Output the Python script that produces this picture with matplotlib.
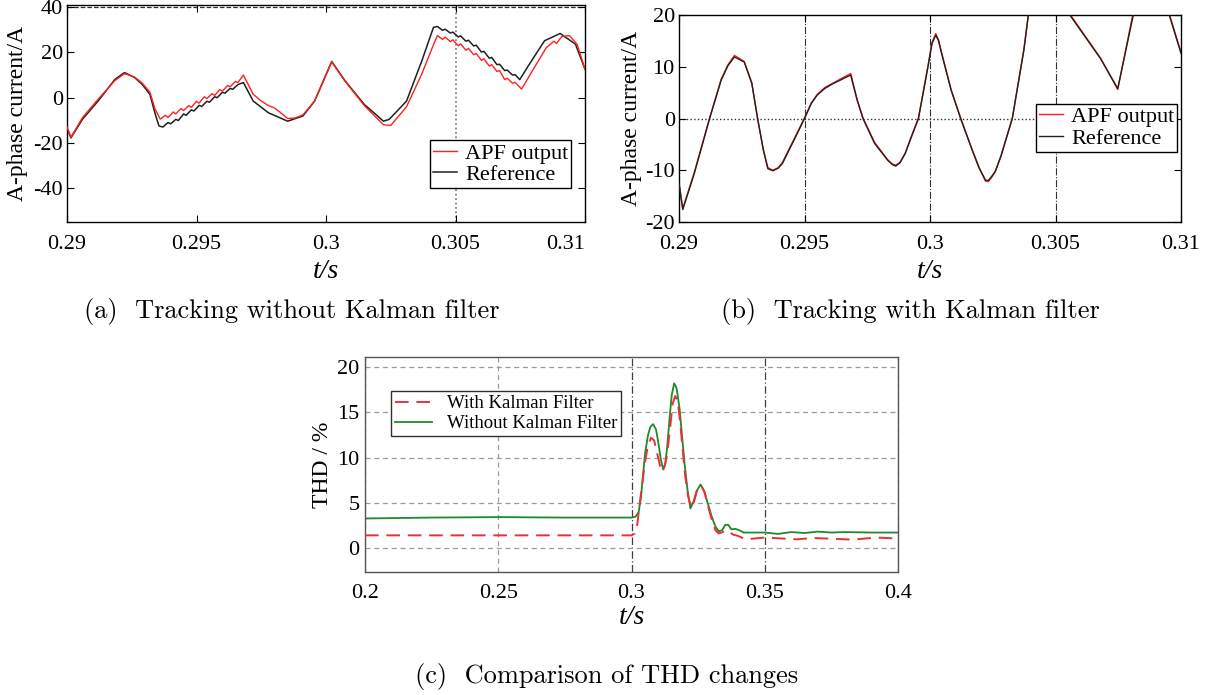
import matplotlib
matplotlib.use("Agg")
import matplotlib.pyplot as plt

plt.rcParams['font.family'] = ['Liberation Serif', 'DejaVu Serif']
plt.rcParams['axes.unicode_minus'] = False

# ---------------- Panel (a): tracking without Kalman filter ----------------
t_a_ref = [0.2900, 0.29015, 0.2906, 0.2912, 0.29185, 0.29222, 0.2926, 0.2929, 0.2932, 0.2934, 0.29355, 0.2937,
           0.2939, 0.2940, 0.2942, 0.2943, 0.2945, 0.2946, 0.2948, 0.2949, 0.2951, 0.2952, 0.2954, 0.2955,
           0.2957, 0.2958, 0.2960, 0.2961, 0.2963, 0.2964, 0.2966, 0.29681,
           0.29719, 0.29778, 0.29852, 0.29911, 0.29956, 0.30022, 0.30074, 0.30148, 0.30222, 0.30244, 0.30311,
           0.3037, 0.30415, 0.3043,
           0.3045, 0.3046, 0.3048, 0.3049, 0.3051, 0.3052, 0.3054, 0.3055, 0.3057, 0.3058, 0.3060, 0.3061,
           0.3063, 0.3064, 0.3066, 0.3067, 0.3069, 0.3070, 0.3072, 0.3073, 0.30748,
           0.30785, 0.30844, 0.30904, 0.30963, 0.3100]
i_a_ref = [-13.3, -17.8, -9.5, -1.5, 8.1, 11.1, 9.0, 5.9, 1.5, -7.0, -12.5, -13.0,
           -11.0, -11.6, -9.6, -10.1, -7.2, -7.8, -5.4, -5.9, -3.4, -3.9, -1.6, -2.0,
           0.4, 0.0, 2.4, 2.0, 4.1, 3.7, 5.8, 6.7,
           -1.5, -6.7, -10.4, -8.1, -1.5, 16.0, 7.4, -3.0, -10.4, -9.6, -1.5,
           16.3, 31.1, 31.5,
           29.8, 30.3, 28.6, 29.0, 26.9, 27.3, 25.0, 25.4, 22.9, 23.2, 20.2, 20.5,
           17.5, 17.8, 14.6, 14.8, 12.0, 12.2, 10.0, 10.2, 8.0,
           14.8, 25.2, 28.4, 23.7, 12.6]

t_a_apf = [0.2900, 0.29015, 0.2906, 0.2912, 0.29185, 0.29222, 0.2926, 0.2929, 0.2932, 0.2934, 0.2936,
           0.2938, 0.2939, 0.2941, 0.2942, 0.2944, 0.2945, 0.2947, 0.2948, 0.2950, 0.2951, 0.2953, 0.2954,
           0.2956, 0.2957, 0.2959, 0.2960, 0.2962, 0.2963, 0.2965, 0.2966, 0.29681,
           0.29719, 0.2975, 0.29778, 0.2980, 0.2982, 0.29852, 0.2988, 0.29911, 0.29956, 0.30022, 0.30074,
           0.30148, 0.30222, 0.3025, 0.30311, 0.3037, 0.3041, 0.3043,
           0.3045, 0.3046, 0.3048, 0.3049, 0.3051, 0.3052, 0.3054, 0.3055, 0.3057, 0.3058, 0.3060, 0.3061,
           0.3063, 0.3064, 0.3066, 0.3067, 0.3069, 0.3070, 0.3072, 0.3073, 0.30755,
           0.3080, 0.3085, 0.3088, 0.3089, 0.3091, 0.3094, 0.3097, 0.3100]
i_a_apf = [-13.0, -17.5, -8.8, -0.7, 7.6, 10.6, 9.2, 6.5, 2.5, -5.0, -9.5,
           -7.8, -8.8, -6.3, -7.2, -4.8, -5.7, -3.5, -4.3, -1.6, -2.4, 0.4, -0.4,
           1.8, 1.0, 3.6, 2.9, 5.4, 4.8, 7.2, 6.7, 10.0,
           1.5, -1.5, -3.5, -4.5, -6.2, -9.2, -9.0, -7.6, -1.5, 15.8, 7.2,
           -3.5, -12.0, -12.3, -4.0, 10.5, 22.0, 27.5,
           25.8, 26.8, 24.8, 25.6, 23.0, 23.8, 21.0, 21.8, 19.0, 19.6, 16.5, 17.2,
           14.0, 14.6, 11.6, 12.0, 8.0, 8.6, 6.4, 6.8, 3.8,
           12.5, 22.0, 25.0, 24.0, 27.0, 27.5, 23.5, 12.6]

# ---------------- Panel (b): tracking with Kalman filter ----------------
t_b = [0.2900, 0.29015, 0.29061, 0.29122, 0.29168, 0.29195, 0.29221, 0.2926, 0.2929, 0.29313, 0.29336,
       0.29354, 0.29374, 0.29395, 0.29412, 0.29458, 0.2950, 0.29527, 0.2955, 0.29581, 0.29612, 0.29642,
       0.29684, 0.2971, 0.29733, 0.29779, 0.29832, 0.2985, 0.29863, 0.2988, 0.29901, 0.29931, 0.29954,
       0.29992, 0.30008, 0.30023, 0.30034, 0.30046, 0.30084, 0.30122, 0.30168, 0.30195, 0.30221, 0.30232,
       0.30244, 0.3026, 0.30282, 0.30328, 0.30374, 0.30392, 0.3043, 0.3050, 0.30557, 0.30679, 0.30748,
       0.3081, 0.3090, 0.3100]
i_b_ref = [-12.6, -17.6, -10.6, 0.0, 7.4, 10.2, 11.9, 10.9, 6.8, 0.0, -6.1,
           -9.7, -10.1, -9.6, -8.7, -4.2, 0.0, 2.9, 4.5, 5.8, 6.7, 7.4,
           8.4, 3.5, 0.0, -4.8, -8.1, -8.9, -9.2, -8.6, -6.8, -2.9, 0.0,
           10.0, 14.5, 16.1, 15.0, 12.6, 5.5, 0.0, -6.1, -9.5, -11.9, -12.0,
           -11.3, -10.2, -7.4, 0.0, 13.2, 20.0, 31.5, 27.0, 20.0, 11.6, 5.8,
           20.0, 28.4, 12.6]
i_b_apf = [-12.4, -17.4, -10.4, 0.1, 7.6, 10.4, 12.2, 11.0, 6.9, 0.1, -6.0,
           -9.5, -10.0, -9.5, -8.5, -4.0, 0.1, 3.0, 4.6, 6.0, 6.8, 7.6,
           8.7, 3.6, 0.1, -4.6, -8.0, -8.8, -9.0, -8.5, -6.7, -2.8, 0.1,
           10.2, 14.7, 16.4, 15.2, 12.8, 5.6, 0.1, -6.0, -9.4, -12.1, -12.2,
           -11.5, -10.3, -7.3, 0.1, 13.4, 20.2, 31.6, 27.1, 20.2, 11.7, 5.6,
           20.6, 28.6, 12.8]

# ---------------- Panel (c): THD comparison ----------------
t_c_with = [0.200, 0.300, 0.3012, 0.3021, 0.3030, 0.3039, 0.3050, 0.3061, 0.3073, 0.3085, 0.3096, 0.3107,
            0.3116, 0.3125, 0.3134, 0.3145, 0.3154, 0.3164, 0.3173, 0.3182, 0.3191, 0.3202, 0.3212, 0.3224,
            0.3235, 0.3247, 0.3260, 0.3274, 0.3285, 0.3300, 0.3315, 0.3327, 0.3342, 0.3354, 0.3367, 0.3383,
            0.3398, 0.3413, 0.3428, 0.350, 0.356, 0.362, 0.368, 0.374, 0.383, 0.392, 0.400]
thd_with = [1.44, 1.44, 1.65, 2.5, 4.7, 6.8, 9.4, 11.2, 12.2, 11.9, 10.5, 9.1,
            8.5, 9.1, 10.5, 13.3, 15.9, 16.8, 16.3, 14.1, 11.2, 7.9, 5.8, 4.5,
            5.2, 6.5, 7.0, 6.2, 4.9, 3.3, 2.0, 1.65, 1.8, 2.0, 1.8, 1.5,
            1.4, 1.2, 1.0, 1.2, 1.1, 1.0, 1.15, 1.08, 0.97, 1.2, 1.08]
t_c_without = [0.200, 0.225, 0.250, 0.275, 0.300, 0.3015, 0.3027, 0.3036, 0.3044, 0.3051, 0.3062, 0.3071,
               0.3081, 0.3092, 0.3101, 0.3110, 0.3119, 0.3127, 0.3134, 0.3143, 0.3151, 0.3160, 0.3169, 0.3180,
               0.3190, 0.3199, 0.3210, 0.3221, 0.3232, 0.3244, 0.3259, 0.3273, 0.3285, 0.3300, 0.3315, 0.3327,
               0.3340, 0.3352, 0.3363, 0.3375, 0.3390, 0.3405, 0.3420, 0.350, 0.355, 0.360, 0.365,
               0.370, 0.375, 0.380, 0.390, 0.400]
thd_without = [3.30, 3.40, 3.45, 3.40, 3.40, 3.50, 4.0, 5.8, 8.3, 10.5, 12.5, 13.4,
               13.7, 13.1, 11.6, 9.8, 8.7, 9.4, 11.2, 14.4, 16.9, 18.2, 17.7, 15.5,
               12.3, 9.4, 6.5, 4.4, 5.1, 6.3, 7.05, 6.3, 5.1, 3.6, 2.4, 1.9,
               2.0, 2.6, 2.6, 2.1, 2.15, 2.0, 1.75, 1.75, 1.6, 1.8, 1.7,
               1.85, 1.75, 1.8, 1.75, 1.75]

xt_top = [0.29, 0.295, 0.3, 0.305, 0.31]
xt_top_lbl = ['0.29', '0.295', '0.3', '0.305', '0.31']
yt_a = [-40, -20, 0, 20, 40]
yt_b = [-20, -10, 0, 10, 20]
xt_c = [0.2, 0.25, 0.3, 0.35, 0.4]
xt_c_lbl = ['0.2', '0.25', '0.3', '0.35', '0.4']
yt_c = [0, 5, 10, 15, 20]

W, H = 1206, 695
fig = plt.figure(figsize=(W / 100, H / 100), dpi=100)


def px_axes(l, t, r, b):
    return fig.add_axes([l / W, 1 - b / H, (r - l) / W, (b - t) / H])


FS = 16
RED = '#ff2020'
BLK = '#202020'


def style(ax, spine='black', ypad=3):
    for s in ax.spines.values():
        s.set_color(spine)
        s.set_linewidth(1.0)
    ax.tick_params(direction='in', top=True, right=True, length=5, width=0.8,
                   labelsize=FS, colors='black')
    ax.tick_params(axis='x', pad=9)
    ax.tick_params(axis='y', pad=ypad)


legkw = dict(fontsize=16, frameon=True, fancybox=False, edgecolor='black', handlelength=1.1,
             borderpad=0.12, labelspacing=0.05, handletextpad=0.35, borderaxespad=0, framealpha=1)

# ----- (a)
axa = px_axes(67, 5, 585, 222)
axa.plot(t_a_apf, i_a_apf, color=RED, lw=1.0, label='APF output', zorder=3)
axa.plot(t_a_ref, i_a_ref, color=BLK, lw=1.1, label='Reference', zorder=2)
axa.axvline(0.305, color='#707070', ls=':', lw=1.2, zorder=1)
axa.axhline(40, color='#303030', ls='--', lw=0.9, zorder=1)
axa.set_xlim(0.29, 0.31)
axa.set_ylim(-55, 41)
axa.set_xticks(xt_top)
axa.set_xticklabels(xt_top_lbl)
axa.get_xticklabels()[-1].set_horizontalalignment('right')
axa.set_yticks(yt_a)
style(axa)
axa.set_ylabel('A-phase current/A', fontsize=17)
axa.yaxis.set_label_coords(-0.075, 0.5)
axa.set_xlabel('t/s', fontsize=20, style='italic', labelpad=4)
leg = axa.legend(loc='lower right', bbox_to_anchor=(0.973, 0.157), **legkw)
leg.get_frame().set_linewidth(1.0)

# ----- (b)
axb = px_axes(679, 15, 1181, 222)
axb.plot(t_b, i_b_apf, color=RED, lw=1.0, label='APF output', zorder=2)
axb.plot(t_b, i_b_ref, color=BLK, lw=1.0, label='Reference', zorder=3)
for xv in [0.295, 0.3, 0.305]:
    axb.axvline(xv, color='#303030', ls='-.', lw=0.8, zorder=1)
axb.axhline(0, color='#303030', ls=':', lw=1.0, zorder=1)
axb.set_xlim(0.29, 0.31)
axb.set_ylim(-20, 20)
axb.set_xticks(xt_top)
axb.set_xticklabels(xt_top_lbl)
axb.set_yticks(yt_b)
style(axb)
axb.set_ylabel('A-phase current/A', fontsize=17)
axb.yaxis.set_label_coords(-0.074, 0.5)
axb.set_xlabel('t/s', fontsize=20, style='italic', labelpad=4)
leg = axb.legend(loc='upper right', bbox_to_anchor=(0.992, 0.57), **legkw)
leg.get_frame().set_linewidth(1.0)

# ----- (c)
axc = px_axes(365, 357, 898, 572)
axc.plot(t_c_with, thd_with, color='#e8303a', lw=1.4, ls=(0, (7, 4)), label='With Kalman Filter', zorder=3)
axc.plot(t_c_without, thd_without, color='#1e8a2a', lw=1.3, label='Without Kalman Filter', zorder=2)
axc.set_xlim(0.2, 0.4)
axc.set_ylim(-2.6, 21.1)
axc.set_xticks(xt_c)
axc.set_xticklabels(xt_c_lbl)
axc.set_yticks(yt_c)
axc.grid(True, color='#9a9a9a', ls=(0, (4, 3)), lw=0.9)
for gl, xv in zip(axc.get_xgridlines(), xt_c):
    if xv in (0.3, 0.35):
        gl.set_color('#404040')
        gl.set_linestyle((0, (6, 2, 1, 2)))
style(axc, spine='#555555', ypad=4)
axc.tick_params(top=False, right=False, length=0)
axc.set_ylabel('THD / %', fontsize=17)
axc.yaxis.set_label_coords(-0.060, 0.5)
axc.set_xlabel('t/s', fontsize=20, style='italic', labelpad=1)
leg = axc.legend(loc='upper left', bbox_to_anchor=(0.049, 0.84), fontsize=13.5, frameon=True,
                 fancybox=False, edgecolor='#303030', handlelength=2.0, borderpad=0.2,
                 labelspacing=0.15, handletextpad=0.8, borderaxespad=0, framealpha=1)
leg.get_frame().set_linewidth(1.0)

# ----- captions
cap = dict(fontsize=19, family=['cmr10', 'DejaVu Serif'], ha='center', va='center')
fig.text(292 / W, 1 - 312 / H, '(a)  Tracking without Kalman filter', **cap)
fig.text(910 / W, 1 - 312 / H, '(b)  Tracking with Kalman filter', **cap)
fig.text(607 / W, 1 - 676 / H, '(c)  Comparison of THD changes', **cap)

fig.savefig('out.png', dpi=100)
